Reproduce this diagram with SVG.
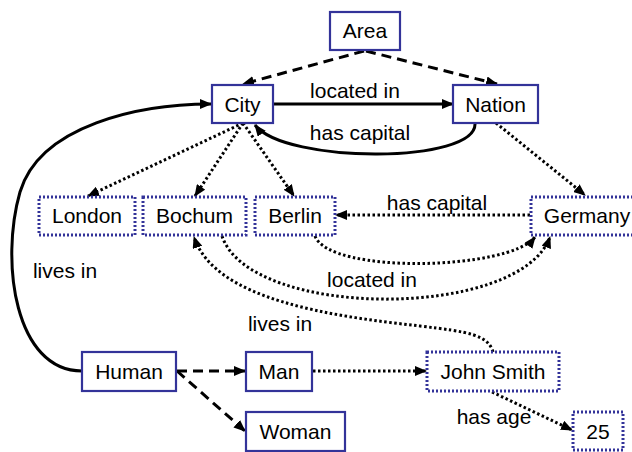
<svg xmlns="http://www.w3.org/2000/svg" width="632" height="452" viewBox="0 0 632 452">
  <defs>
    <marker id="arrow" viewBox="0 0 12 10" refX="11" refY="5" markerWidth="12" markerHeight="10" markerUnits="userSpaceOnUse" orient="auto">
      <path d="M0,0 L12,5 L0,10 z" fill="#000"/>
    </marker>
  </defs>
  <style>
    .box { fill: #fff; stroke: #333399; stroke-width: 2.2; }
    .inst { fill: #fff; stroke: #333399; stroke-width: 3; stroke-dasharray: 2 2; }
    text { font-family: "Liberation Sans", Arial, sans-serif; font-size: 21px; fill: #000; }
    .lbl { text-anchor: middle; }
    .solid { fill: none; stroke: #000; stroke-width: 3; marker-end: url(#arrow); }
    .dash { fill: none; stroke: #000; stroke-width: 3; stroke-dasharray: 10 6; marker-end: url(#arrow); }
    .dot { fill: none; stroke: #000; stroke-width: 3; stroke-dasharray: 2.5 2.5; marker-end: url(#arrow); }
  </style>

  <g id="connectors">
    <path class="dash" d="M364,51 L243,84"/>
    <path class="dash" d="M366,51 L497,84"/>
    <path class="solid" d="M273,104 L453,104"/>
    <path class="solid" d="M475,123 C478,164 285,164 255,125"/>
    <path class="dot" d="M243,123 L88,196"/>
    <path class="dot" d="M243,123 L195,196"/>
    <path class="dot" d="M243,123 L294,196"/>
    <path class="dot" d="M496,123 L585,195"/>
    <path class="dot" d="M530,215 L336,215"/>
    <path class="dot" d="M315,236 C330,275 510,270 535,237"/>
    <path class="dot" d="M222,236 C250,320 520,320 550,237"/>
    <path class="dot" d="M493,352 C488,335 470,332 420,326 C330,316 215,300 194,237"/>
    <path class="solid" d="M82,371 C15,371 0,262 20,192 C40,125 140,104 211,104"/>
    <path class="dash" d="M177,371 L245,371"/>
    <path class="dash" d="M177,371 L245,431"/>
    <path class="dot" d="M313,371 L426,371"/>
    <path class="dot" d="M492,392 L572,430"/>
  </g>

  <g id="edge-labels">
    <text class="lbl" x="355" y="98">located in</text>
    <text class="lbl" x="360" y="140">has capital</text>
    <text class="lbl" x="437" y="210">has capital</text>
    <text class="lbl" x="372" y="287">located in</text>
    <text class="lbl" x="280" y="331">lives in</text>
    <text class="lbl" x="65" y="278">lives in</text>
    <text class="lbl" x="494" y="424">has age</text>
  </g>

  <g id="area"><rect class="box" x="330" y="12" width="70" height="38"/><text class="lbl" x="365" y="38">Area</text></g>
  <g id="city"><rect class="box" x="212" y="85" width="61" height="38"/><text class="lbl" x="242.5" y="112">City</text></g>
  <g id="nation"><rect class="box" x="453" y="85" width="85" height="38"/><text class="lbl" x="495.5" y="112">Nation</text></g>
  <g id="london"><rect class="inst" x="39" y="197" width="96" height="38"/><text class="lbl" x="87" y="223">London</text></g>
  <g id="bochum"><rect class="inst" x="143" y="197" width="103" height="38"/><text class="lbl" x="194.5" y="223">Bochum</text></g>
  <g id="berlin"><rect class="inst" x="255" y="197" width="80" height="38"/><text class="lbl" x="295" y="223">Berlin</text></g>
  <g id="germany"><rect class="inst" x="531" y="197" width="112" height="38"/><text class="lbl" x="587" y="223">Germany</text></g>
  <g id="human"><rect class="box" x="82" y="352" width="94" height="39"/><text class="lbl" x="129" y="379">Human</text></g>
  <g id="man"><rect class="box" x="246" y="352" width="66" height="39"/><text class="lbl" x="279" y="379">Man</text></g>
  <g id="woman"><rect class="box" x="246" y="412" width="99" height="39"/><text class="lbl" x="295.5" y="439">Woman</text></g>
  <g id="john-smith"><rect class="inst" x="427" y="352" width="132" height="39"/><text class="lbl" x="493" y="379">John Smith</text></g>
  <g id="age-25"><rect class="inst" x="573" y="412" width="50" height="38"/><text class="lbl" x="598" y="439">25</text></g>
</svg>
